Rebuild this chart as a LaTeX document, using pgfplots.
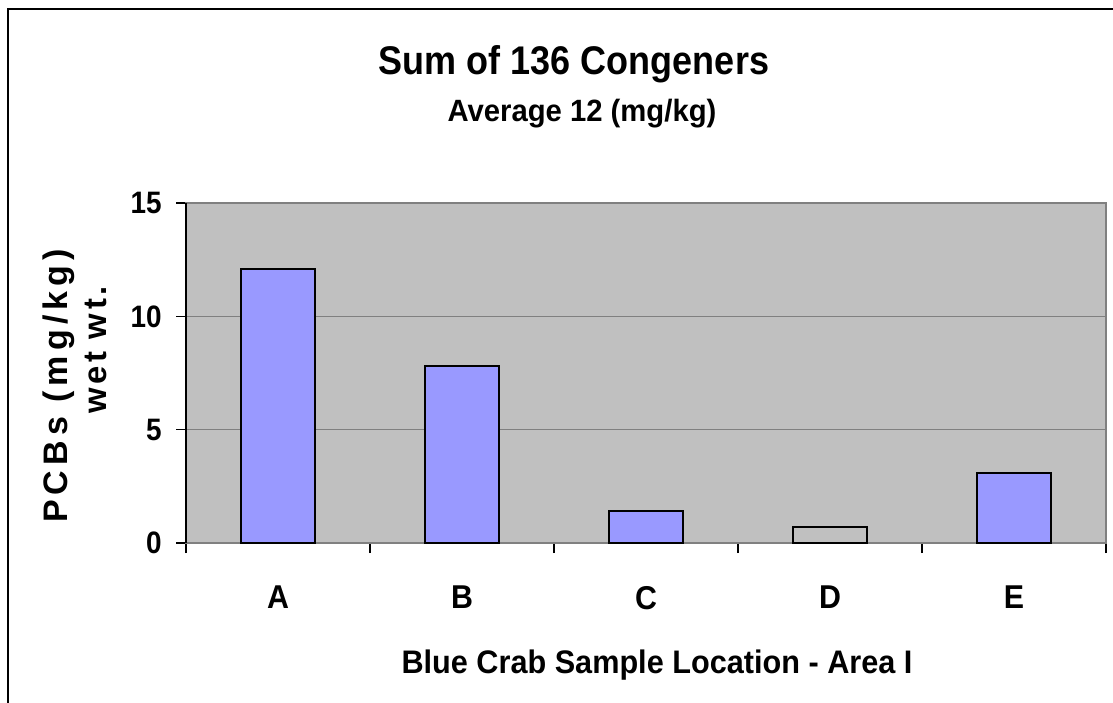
\documentclass[border=0pt]{standalone}
\usepackage{fontspec}
\setmainfont{Liberation Sans}
\usepackage{pgfplots}
\pgfplotsset{compat=1.18}
\definecolor{barblue}{HTML}{9999FF}
\definecolor{plotgray}{HTML}{C0C0C0}
\definecolor{gridgray}{HTML}{808080}
\begin{document}
\begin{tikzpicture}
\useasboundingbox (0,0) rectangle (556.5pt,351pt);
\draw[line width=1pt] (4pt,-20pt) -- (4pt,346.5pt) -- (580pt,346.5pt);
\begin{axis}[
  at={(93pt,79.5pt)}, anchor=south west,
  scale only axis, width=460pt, height=170pt,
  xmin=-0.5, xmax=4.5, ymin=0, ymax=15,
  axis background/.style={fill=plotgray},
  axis line style={gridgray, line width=0.8pt},
  xtick={0,1,2,3,4},
  xticklabels={A,B,C,D,E},
  minor xtick={-0.5,0.5,1.5,2.5,3.5,4.5},
  xtick pos=lower, ytick pos=left,
  tick align=outside,
  major x tick style={draw=none},
  minor tick length=5pt,
  minor x tick style={black, line width=0.6pt},
  ytick={0,5,10,15},
  major tick length=5pt,
  y tick style={black, line width=0.6pt},
  ymajorgrids, grid style={gridgray, line width=0.6pt},
  /pgf/number format/assume math mode=true,
  xticklabel style={font=\bfseries\fontsize{16.5}{19}\selectfont, yshift=-13pt, xscale=0.92},
  yticklabel style={font=\bfseries\fontsize{15.5}{18}\selectfont, xshift=-4pt, xscale=0.9},
  clip=false,
]
\addplot[ybar, bar width=37pt, fill=barblue, draw=black, line width=0.9pt]
  coordinates {(0,12.1) (1,7.8) (2,1.4) (4,3.1)};
\addplot[ybar, bar width=37pt, fill=plotgray, draw=black, line width=0.9pt]
  coordinates {(3,0.7)};
\draw[black, line width=0.9pt] (axis cs:-0.5,0) -- (axis cs:-0.5,15);
\end{axis}
\node[font=\bfseries\fontsize{20}{24}\selectfont, xscale=0.9] at (287pt,319pt) {Sum of 136 Congeners};
\node[font=\bfseries\fontsize{15.4}{18}\selectfont, xscale=0.95] at (291pt,294pt) {Average 12 (mg/kg)};
\node[font=\bfseries\fontsize{16.3}{19}\selectfont, xscale=0.94] at (328.5pt,18.5pt) {Blue Crab Sample Location - Area I};
\node[font=\bfseries\fontsize{17}{20}\selectfont\addfontfeature{LetterSpace=15}, rotate=90] at (29.5pt,158pt) {PCBs (mg/kg)};
\node[font=\bfseries\fontsize{16.4}{19}\selectfont\addfontfeature{LetterSpace=11}, rotate=90] at (48pt,176pt) {wet wt.};
\end{tikzpicture}
\end{document}
